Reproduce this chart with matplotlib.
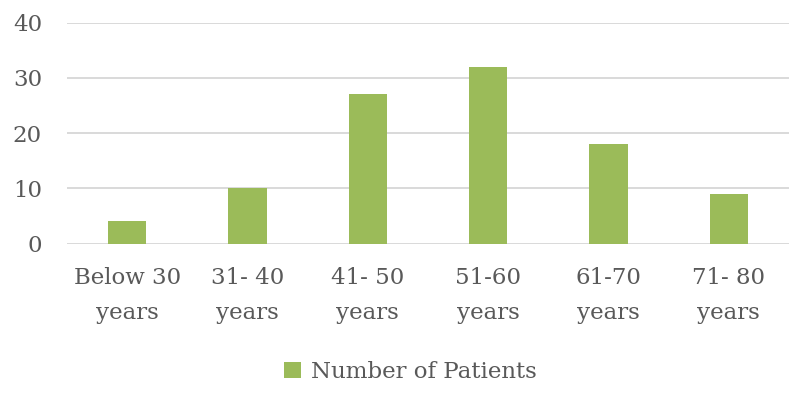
import matplotlib
matplotlib.use("Agg")
import matplotlib.pyplot as plt
import numpy as np

categories = ["Below 30\nyears", "31- 40\nyears", "41- 50\nyears", "51-60\nyears", "61-70\nyears", "71- 80\nyears"]
patients = [4, 10, 27, 32, 18, 9]
series_name = "Number of Patients"

plt.rcParams['font.family'] = ['DejaVu Serif']
txt = '#595959'
green = '#9BBB59'

fig = plt.figure(figsize=(8, 3.98), dpi=100)
ax = fig.add_axes([67/800, 1-243.5/398, (789-67)/800, 221/398])
x = np.arange(len(categories))
ax.bar(x, patients, width=0.32, color=green, label=series_name, zorder=3)
ax.set_xlim(-0.5, len(categories)-0.5)
ax.set_ylim(0, 40)
ax.set_yticks([0, 10, 20, 30, 40])
ax.yaxis.grid(True, color='#D9D9D9', linewidth=1.4, zorder=0)
for s in ax.spines.values():
    s.set_visible(False)
ax.tick_params(axis='both', length=0, labelsize=16.5, labelcolor=txt)
ax.tick_params(axis='y', pad=18)
ax.tick_params(axis='x', pad=17)
ax.set_xticks(x)
ax.set_xticklabels(categories, linespacing=1.75)
leg = fig.legend(loc='center', bbox_to_anchor=(0.513, 1-372/398), frameon=False,
                 fontsize=16.5, handlelength=0.75, handleheight=0.75, handletextpad=0.45)
for t in leg.get_texts():
    t.set_color(txt)
fig.savefig('out.png', dpi=100)
